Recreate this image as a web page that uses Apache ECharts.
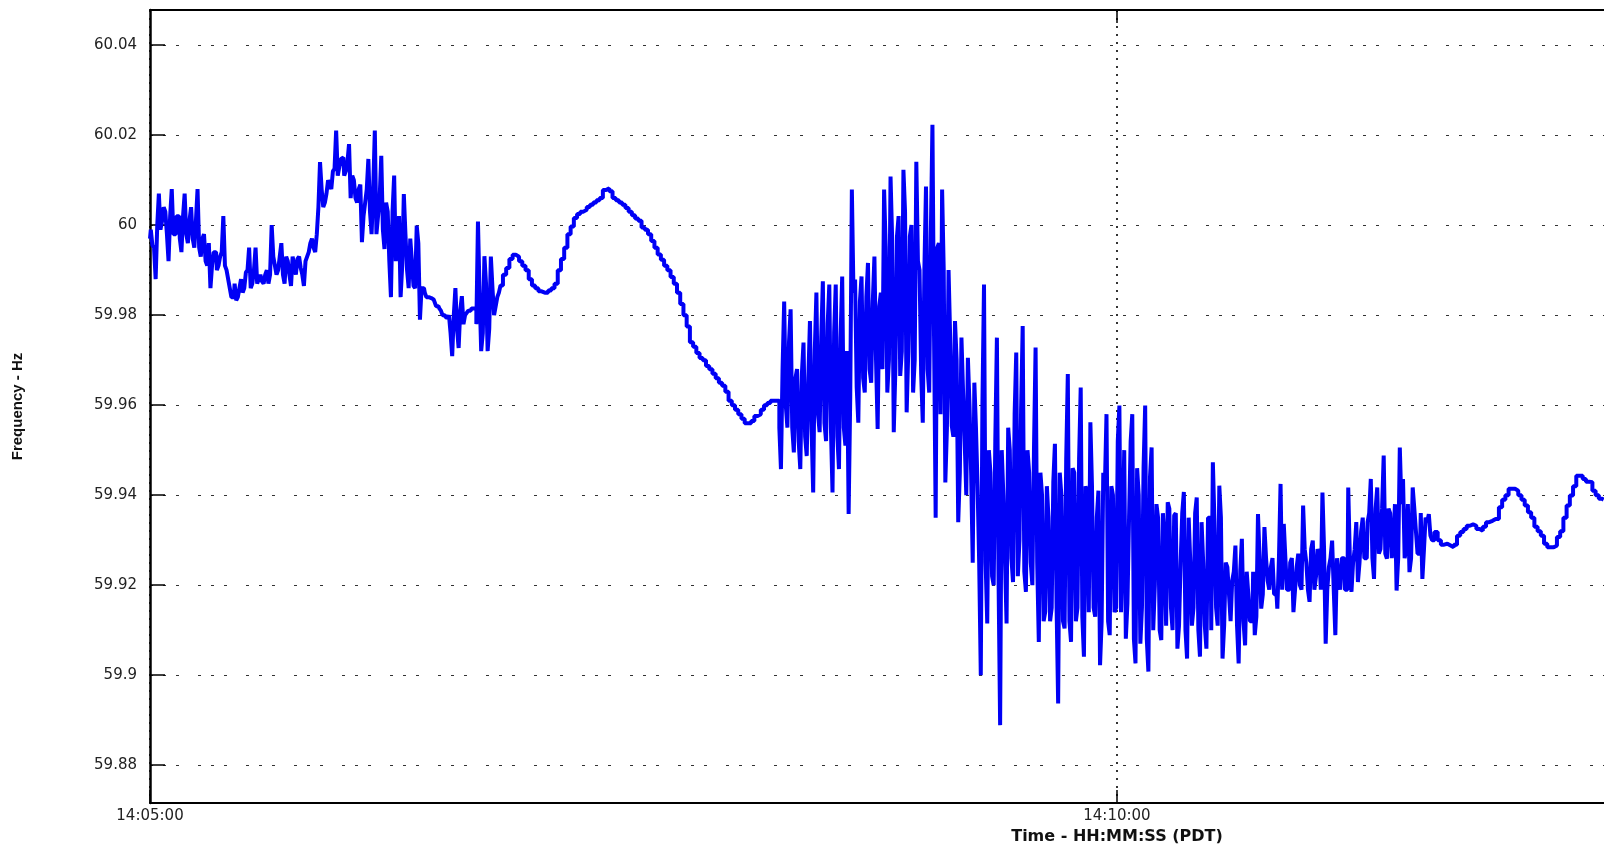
<!DOCTYPE html>
<html><head><meta charset="utf-8">
<script src="https://cdn.jsdelivr.net/npm/echarts@6/dist/echarts.min.js"></script>
<style>html,body{margin:0;padding:0;background:#fff}#c{width:1604px;height:850px}</style>
</head><body><div id="c"></div>
<script>
// readings on whole seconds, starting 14:05:00 (seconds since 14:05:00)
const sampleSeconds = 1;
const frequency = [
59.997, 59.9955, 59.988, 60.007, 60.001, 60.003, 59.992, 60.008, 59.998, 60.002,
59.994, 60.007, 59.996, 60.004, 59.995, 60.008, 59.993, 59.998, 59.991, 59.986,
59.994, 59.990, 59.993, 60.002, 59.990, 59.986, 59.984, 59.9833, 59.986, 59.985,
59.9895, 59.995, 59.987, 59.995, 59.988, 59.9875, 59.989, 59.987, 60.000, 59.991,
59.990, 59.996, 59.987, 59.992, 59.9865, 59.991, 59.9925, 59.9905, 59.9865, 59.993,
59.996, 59.995, 59.998, 60.014, 60.004, 60.007, 60.009, 60.012, 60.021, 60.013,
60.015, 60.012, 60.018, 60.011, 60.006, 60.008, 59.9962, 60.005, 60.0147, 59.998,
60.021, 60.002, 60.0154, 59.9947, 60.003, 59.984, 60.011, 59.995, 59.984, 60.0069,
59.990, 59.997, 59.9865, 59.9999, 59.979, 59.986, 59.984, 59.9838, 59.9835, 59.982,
59.9815, 59.980, 59.9795, 59.980, 59.9709, 59.986, 59.9727, 59.9842, 59.980, 59.981,
59.9815, 59.9815, 60.0008, 59.972, 59.9931, 59.972, 59.993, 59.980, 59.984, 59.9866,
59.989, 59.9905, 59.9925, 59.9934, 59.993, 59.992, 59.991, 59.990, 59.988, 59.9866,
59.986, 59.9853, 59.985, 59.985, 59.9855, 59.986, 59.987, 59.990, 59.9925, 59.995,
59.998, 59.9997, 60.0016, 60.0025, 60.003, 60.0034, 60.004, 60.0045, 60.005, 60.0055,
60.006, 60.0078, 60.0082, 60.0075, 60.006, 60.0055, 60.005, 60.0045, 60.0038, 60.003,
60.0022, 60.0015, 60.001, 59.9995, 59.999, 59.998, 59.9965, 59.995, 59.9935, 59.9923,
59.991, 59.990, 59.9885, 59.987, 59.985, 59.9825, 59.980, 59.9775, 59.974, 59.973,
59.9716, 59.9705, 59.970, 59.9687, 59.968, 59.967, 59.966, 59.965, 59.9643, 59.963,
59.961, 59.960, 59.959, 59.958, 59.957, 59.956, 59.956, 59.9565, 59.9576, 59.958,
59.959, 59.960, 59.9605, 59.961, 59.961, 59.961, 59.9458, 59.983, 59.955, 59.9813,
59.9495, 59.968, 59.9458, 59.9739, 59.9487, 59.9787, 59.9406, 59.985, 59.954, 59.9875,
59.952, 59.9868, 59.9406, 59.9868, 59.9458, 59.9886, 59.951, 59.9358, 60.0079, 59.9879,
59.9561, 59.9886, 59.9628, 59.9916, 59.965, 59.993, 59.9547, 59.985, 60.0079, 59.9628,
60.0108, 59.954, 59.9975, 59.9665, 60.0123, 59.9584, 59.9975, 59.9628, 60.0141, 59.990,
59.9561, 60.0086, 59.9628, 60.0223, 59.935, 59.996, 60.0079, 59.9428, 59.990, 59.9554,
59.9787, 59.934, 59.975, 59.952, 59.9705, 59.945, 59.965, 59.942, 59.900, 59.9868,
59.9115, 59.945, 59.920, 59.975, 59.8889, 59.940, 59.9115, 59.950, 59.9207, 59.9717,
59.930, 59.9776, 59.9185, 59.945, 59.920, 59.9728, 59.9074, 59.940, 59.9141, 59.935,
59.915, 59.9514, 59.8937, 59.940, 59.9104, 59.9669, 59.9074, 59.945, 59.915, 59.9639,
59.9041, 59.940, 59.9562, 59.915, 59.935, 59.9022, 59.945, 59.958, 59.9089, 59.940,
59.915, 59.9599, 59.930, 59.9081, 59.935, 59.958, 59.9026, 59.940, 59.915, 59.9599,
59.9008, 59.9506, 59.920, 59.935, 59.9078, 59.930, 59.9384, 59.915, 59.9355, 59.9059,
59.925, 59.9407, 59.9037, 59.925, 59.915, 59.9395, 59.9041, 59.925, 59.9059, 59.935,
59.9473, 59.915, 59.9421, 59.9037, 59.925, 59.918, 59.921, 59.9288, 59.9026, 59.9303,
59.9066, 59.918, 59.912, 59.9089, 59.9358, 59.9148, 59.9329, 59.921, 59.924, 59.918,
59.9148, 59.9425, 59.9336, 59.919, 59.925, 59.914, 59.924, 59.920, 59.9377, 59.925,
59.9163, 59.9299, 59.922, 59.927, 59.9406, 59.907, 59.924, 59.9299, 59.9089, 59.921,
59.926, 59.919, 59.9417, 59.9185, 59.928, 59.9207, 59.932, 59.926, 59.934, 59.9436,
59.9214, 59.9417, 59.928, 59.9488, 59.9259, 59.936, 59.930, 59.9188, 59.9506, 59.9436,
59.928, 59.9229, 59.9417, 59.932, 59.927, 59.9214, 59.935, 59.9358, 59.930, 59.9318,
59.930, 59.929, 59.9292, 59.9288, 59.9284, 59.929, 59.931, 59.9318, 59.9325, 59.9332,
59.9335, 59.9332, 59.9325, 59.9321, 59.933, 59.934, 59.9343, 59.9347, 59.9347, 59.9373,
59.939, 59.940, 59.9414, 59.9414, 59.941, 59.940, 59.939, 59.9377, 59.9362, 59.935,
59.933, 59.932, 59.931, 59.9292, 59.9284, 59.9284, 59.9288, 59.9307, 59.932, 59.935,
59.9377, 59.9399, 59.942, 59.9443, 59.9443, 59.9436, 59.943, 59.9429, 59.941, 59.940,
59.9392, 59.939
];
// extra half-second readings inside the two oscillating stretches
const midAStart = 0.5;   // 14:05:00.5 onward
const midA = [
59.999, 59.995, 60.000, 59.999, 60.004, 59.998, 60.002, 59.998, 60.002, 59.997,
60.002, 59.998, 60.001, 59.997, 60.001, 59.995, 59.997, 59.992, 59.996, 59.991,
59.994, 59.991, 59.994, 59.991, 59.988, 59.984, 59.987, 59.984, 59.988, 59.986,
59.990, 59.986, 59.990, 59.987, 59.989, 59.987, 59.990, 59.989, 59.993, 59.989,
59.993, 59.989, 59.993, 59.989, 59.993, 59.989, 59.993, 59.989, 59.992, 59.994,
59.997, 59.994, 60.004, 60.008, 60.005, 60.010, 60.008, 60.0125, 60.011, 60.0147,
60.011, 60.014, 60.006, 60.010, 60.005, 60.009, 60.002, 60.008, 60.003, 60.008,
59.998, 60.006, 59.999, 60.005, 59.992, 60.003, 59.992, 60.002, 59.991, 59.998,
59.986, 59.992, 59.986, 59.996, 59.986, 59.985, 59.984, 59.9838, 59.983, 59.982,
59.981, 59.980, 59.9795, 59.976, 59.980, 59.977, 59.981, 59.978, 59.9805, 59.981,
59.9815, 59.978, 59.985, 59.976, 59.987, 59.977, 59.986, 59.982, 59.985
];
const midCStart = 195.5; // 14:08:15.5 onward
const midC = [
59.955, 59.968, 59.960, 59.974, 59.955, 59.966, 59.952, 59.967, 59.953, 59.966,
59.955, 59.972, 59.958, 59.975, 59.956, 59.978, 59.955, 59.976, 59.953, 59.975,
59.955, 59.972, 59.962, 59.985, 59.964, 59.983, 59.966, 59.984, 59.968, 59.983,
59.970, 59.982, 59.968, 59.995, 59.970, 59.997, 59.968, 60.002, 59.972, 60.003,
59.972, 60.000, 59.970, 59.992, 59.967, 59.990, 59.968, 59.998, 59.975, 59.995,
59.958, 59.990, 59.955, 59.975, 59.953, 59.970, 59.945, 59.963, 59.940, 59.960,
59.925, 59.955, 59.925, 59.960, 59.925, 59.950, 59.922, 59.952, 59.922, 59.950,
59.926, 59.955, 59.926, 59.958, 59.922, 59.959, 59.923, 59.950, 59.925, 59.950,
59.925, 59.945, 59.912, 59.942, 59.912, 59.943, 59.916, 59.945, 59.912, 59.948,
59.912, 59.946, 59.912, 59.948, 59.913, 59.942, 59.914, 59.942, 59.913, 59.941,
59.912, 59.942, 59.912, 59.942, 59.914, 59.952, 59.914, 59.950, 59.916, 59.952,
59.908, 59.946, 59.907, 59.946, 59.908, 59.944, 59.910, 59.938, 59.910, 59.936,
59.911, 59.937, 59.910, 59.936, 59.911, 59.936, 59.910, 59.935, 59.911, 59.936,
59.910, 59.934, 59.911, 59.935, 59.910, 59.934, 59.911, 59.935, 59.911, 59.924,
59.912, 59.923, 59.911, 59.923, 59.912, 59.923, 59.912, 59.923, 59.913, 59.926,
59.918, 59.926, 59.919, 59.926, 59.918, 59.926, 59.919, 59.926, 59.919, 59.926,
59.919, 59.927, 59.919, 59.928, 59.919, 59.928, 59.919, 59.928, 59.919, 59.928,
59.919, 59.926, 59.919, 59.926, 59.919, 59.926, 59.919, 59.926, 59.925, 59.934,
59.925, 59.935, 59.926, 59.936, 59.926, 59.937, 59.927, 59.937, 59.927, 59.937,
59.926, 59.938, 59.926, 59.938, 59.926, 59.938, 59.926, 59.937, 59.927, 59.936,
59.928, 59.934, 59.931
];
const yTicks = [59.88, 59.9, 59.92, 59.94, 59.96, 59.98, 60, 60.02, 60.04];
const yMin = 59.8716, yMax = 60.0478;
const xTicks = [0, 300];
const xTickLabels = ['14:05:00', '14:10:00'];
const xMin = 0, xMax = 451.1;
const yName = 'Frequency - Hz';
const xName = 'Time - HH:MM:SS (PDT)';

const points = [];
frequency.forEach((v, i) => points.push([i * sampleSeconds, v]));
midA.forEach((v, k) => points.push([midAStart + k * sampleSeconds, v]));
midC.forEach((v, k) => points.push([midCStart + k * sampleSeconds, v]));
points.sort((a, b) => a[0] - b[0]);

const chart = echarts.init(document.getElementById('c'), null, {renderer: 'canvas'});
const labelFont = {fontFamily: 'DejaVu Sans', fontSize: 15, color: '#222'};
chart.setOption({
  animation: false,
  backgroundColor: '#fff',
  grid: {left: 150, right: 0, top: 10, bottom: 45, containLabel: false},
  xAxis: [{
    type: 'value', min: xMin, max: xMax, position: 'bottom',
    name: xName, nameLocation: 'middle', nameGap: 26,
    nameTextStyle: {fontFamily: 'DejaVu Sans', fontWeight: 'bold', fontSize: 16, color: '#111', padding: [0, 0, 0, 480]},
    axisLine: {show: true, onZero: false, lineStyle: {color: '#000', width: 2}},
    axisTick: {show: true, inside: true, length: 13, customValues: xTicks, lineStyle: {color: '#000', width: 1.5}},
    axisLabel: Object.assign({customValues: xTicks, margin: 6,
      formatter: v => xTickLabels[xTicks.indexOf(Math.round(v))] || ''}, labelFont),
    splitLine: {show: true, lineStyle: {color: '#333', width: 2, type: [2, 6]}}
  }, {
    type: 'value', min: xMin, max: xMax, position: 'top',
    axisLine: {show: true, onZero: false, lineStyle: {color: '#000', width: 2}},
    axisTick: {show: true, inside: true, length: 13, customValues: [300], lineStyle: {color: '#000', width: 1.5}},
    axisLabel: {show: false},
    splitLine: {show: false}
  }],
  yAxis: {
    type: 'value', min: yMin, max: yMax,
    name: yName, nameLocation: 'middle', nameGap: 125,
    nameTextStyle: {fontFamily: 'Liberation Sans', fontWeight: 'bold', fontSize: 15, color: '#111'},
    axisLine: {show: true, onZero: false, lineStyle: {color: '#000', width: 2.5}},
    axisTick: {show: true, inside: true, length: 15, customValues: yTicks, lineStyle: {color: '#000', width: 1.5}},
    axisLabel: Object.assign({customValues: yTicks, margin: 13,
      formatter: v => String(parseFloat(Number(v).toFixed(2)))}, labelFont),
    splitLine: {show: true, lineStyle: {color: '#333', width: 1.2, type: [3, 10, 3, 10, 3, 19]}}
  },
  series: [{
    type: 'line', data: points, step: 'middle', showSymbol: false, symbol: 'none',
    sampling: false, clip: true,
    lineStyle: {color: '#0000f5', width: 4, join: 'bevel', cap: 'butt'}
  }]
});
</script></body></html>
